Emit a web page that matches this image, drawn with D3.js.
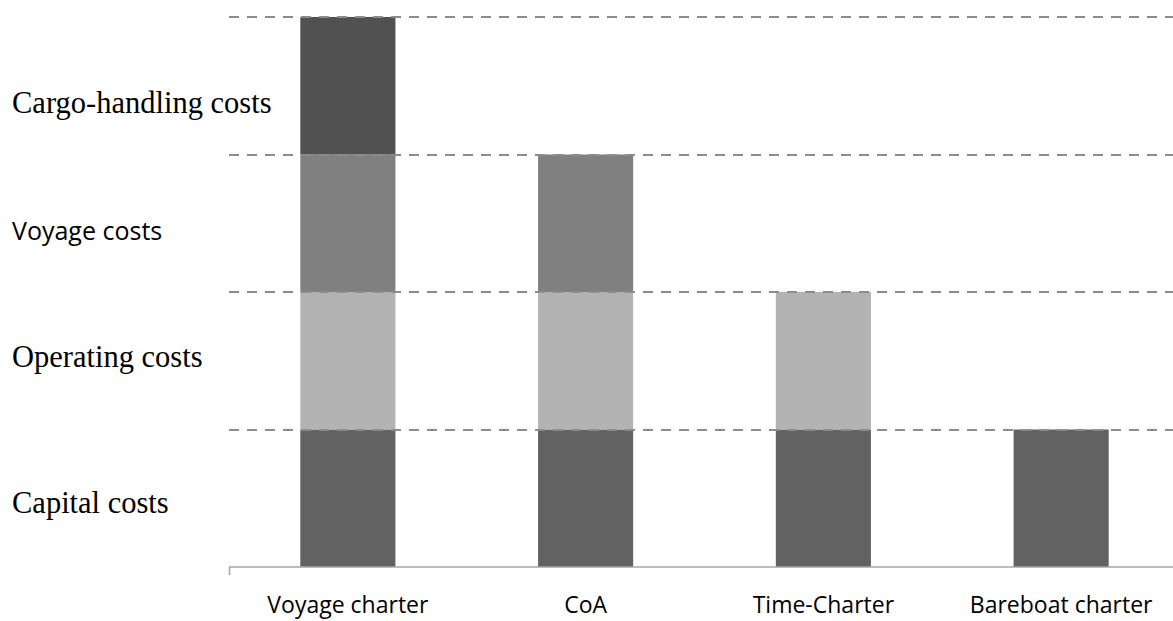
<!DOCTYPE html>
<html>
<head>
<meta charset="utf-8">
<script src="https://cdn.jsdelivr.net/npm/d3@7"></script>
<style>
  html, body { margin: 0; padding: 0; background: #fff; }
  svg { display: block; }
</style>
</head>
<body>
<svg id="chart" width="1173" height="621"></svg>
<script>
// Chartering forms and the cost layers carried by the ship-owner
const categories = ["Voyage charter", "CoA", "Time-Charter", "Bareboat charter"];
const capitalCosts = [1, 1, 1, 1];
const operatingCosts = [1, 1, 1, 0];
const voyageCosts = [1, 1, 0, 0];
const cargoHandlingCosts = [1, 0, 0, 0];
const seriesNames = ["Capital costs", "Operating costs", "Voyage costs", "Cargo-handling costs"];
const seriesColors = ["#626262", "#b3b3b3", "#808080", "#515151"];
const gridLevels = [1, 2, 3, 4];

const svg = d3.select("#chart");
const width = 1173;

const x = d3.scaleBand()
  .domain(categories)
  .range([229, 1180])
  .paddingInner(0.6)
  .paddingOuter(0.3);

const y = d3.scaleLinear()
  .domain([0, 4])
  .range([567, 17]);

// stack the four cost layers per charter type
const rows = categories.map((c, i) => ({
  category: c,
  "Capital costs": capitalCosts[i],
  "Operating costs": operatingCosts[i],
  "Voyage costs": voyageCosts[i],
  "Cargo-handling costs": cargoHandlingCosts[i]
}));
const stacked = d3.stack().keys(seriesNames)(rows);

// bars
svg.append("g")
  .selectAll("g")
  .data(stacked)
  .join("g")
  .attr("fill", (d, i) => seriesColors[i])
  .selectAll("rect")
  .data(d => d.filter(s => s[1] - s[0] > 0))
  .join("rect")
  .attr("x", d => x(d.data.category))
  .attr("width", x.bandwidth())
  .attr("y", d => y(d[1]))
  .attr("height", d => y(d[0]) - y(d[1]));

// dashed gridlines at each layer boundary
svg.append("g")
  .selectAll("line")
  .data(gridLevels)
  .join("line")
  .attr("x1", 229)
  .attr("x2", width)
  .attr("y1", d => Math.round(y(d)))
  .attr("y2", d => Math.round(y(d)))
  .attr("stroke", "#8c8c8c")
  .attr("stroke-width", 2)
  .attr("stroke-dasharray", "10,8");

// category axis
const xAxis = svg.append("g")
  .attr("transform", `translate(0,${y(0)})`)
  .call(d3.axisBottom(x).tickSize(0).tickPadding(0));
xAxis.select(".domain").remove();
xAxis.append("line")
  .attr("x1", 229).attr("x2", width)
  .attr("y1", 0).attr("y2", 0)
  .attr("stroke", "#a6a6a6").attr("stroke-width", 1.5);
xAxis.append("line")
  .attr("x1", 229.5).attr("x2", 229.5)
  .attr("y1", 0).attr("y2", 8)
  .attr("stroke", "#a6a6a6").attr("stroke-width", 1.5);
xAxis.selectAll(".tick text")
  .attr("y", 46)
  .attr("dy", 0)
  .attr("fill", "#000")
  .style("font-family", "'Open Sans', sans-serif")
  .style("font-size", "23px");

// layer names on the left, one per stacked level
const layerLabels = [
  { name: "Cargo-handling costs", level: 3.5, dy: 27, serif: true },
  { name: "Voyage costs", level: 2.5, dy: 16.5, serif: false },
  { name: "Operating costs", level: 1.5, dy: 6, serif: true },
  { name: "Capital costs", level: 0.5, dy: 14.5, serif: true }
];
svg.append("g")
  .selectAll("text")
  .data(layerLabels)
  .join("text")
  .attr("x", 12)
  .attr("y", d => y(d.level) + d.dy)
  .attr("fill", "#000")
  .style("font-family", d => d.serif ? "'Liberation Serif', serif" : "'Open Sans', sans-serif")
  .style("font-size", d => d.serif ? "30.5px" : "25px")
  .text(d => d.name);
</script>
</body>
</html>
